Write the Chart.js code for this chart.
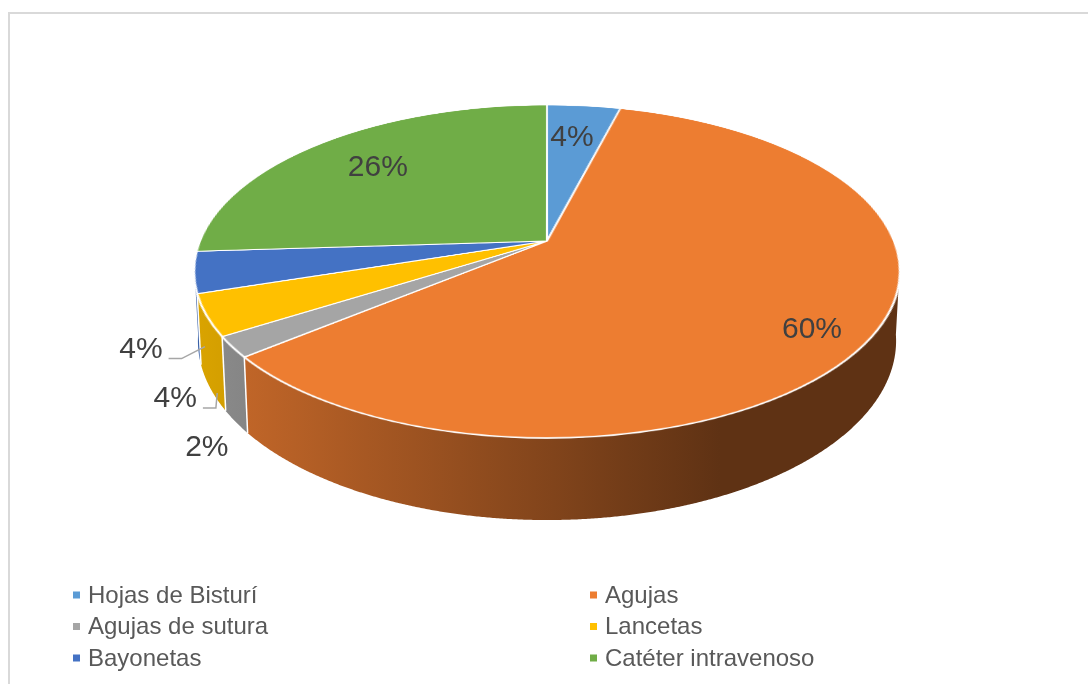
<!DOCTYPE html>
<html>
<head>
<meta charset="utf-8">
<script src="https://cdn.jsdelivr.net/npm/chart.js@4.4.0/dist/chart.umd.min.js"></script>
<style>
  html, body { margin: 0; padding: 0; background: #fff; }
  canvas { display: block; }
</style>
</head>
<body>
<canvas id="graficoResiduos" width="1088" height="684"></canvas>
<script>
const categorias = ['Hojas de Bisturí', 'Agujas', 'Agujas de sutura', 'Lancetas', 'Bayonetas', 'Catéter intravenoso'];
const porcentajes = [4, 60, 2, 4, 4, 26];
const colores = ['#5B9BD5', '#ED7D31', '#A5A5A5', '#FFC000', '#4472C4', '#70AD47'];

// perspectiva del disco: X = cx + k*u*(1 - conv*t/fondo)/(1+r*v), Y = (p*v + q + t)/(1+r*v)
const VISTA = { cx: 547, k: 347, p: 116.77, q: 241, r: -0.1832, fondo: 67, conv: 0.011 };

// colocacion de etiquetas: radio relativo y giro en grados (dentro) o desplazamiento desde el borde inferior (fuera)
const ETIQ = [
    { dentro: 0.73, giro: -0.8 },
    { dentro: 0.856, giro: 3.5 },
    { dx: -29, dy: 26 },
    { dx: -35, dy: 11, guia: true },
    { dx: -57, dy: 8, guia: true },
    { dentro: 0.73, giro: 0 }
];

const FUENTE = "'Liberation Sans', Arial, sans-serif";

function proyectar(u, v, t) {
    t = t || 0;
    const w = 1 + VISTA.r * v;
    const enc = 1 - VISTA.conv * t / VISTA.fondo;
    return { x: VISTA.cx + VISTA.k * u * enc / w, y: (VISTA.p * v + VISTA.q + t) / w };
}

function vDesdeY(y) {
    return (VISTA.q - y) / (y * VISTA.r - VISTA.p);
}

function oscurecer(hex, f) {
    const n = parseInt(hex.slice(1), 16);
    const r = Math.round(((n >> 16) & 255) * f);
    const g = Math.round(((n >> 8) & 255) * f);
    const b = Math.round((n & 255) * f);
    return 'rgb(' + r + ',' + g + ',' + b + ')';
}

const marco = {
    id: 'marco',
    beforeDraw(chart) {
        const ctx = chart.ctx;
        ctx.save();
        ctx.fillStyle = '#d9d9d9';
        ctx.fillRect(8, 12, 2, 700);
        ctx.fillRect(8, 12, 1100, 2);
        ctx.restore();
    }
};

const pastel3d = {
    id: 'pastel3d',
    beforeDatasetsDraw(chart) {
        const ctx = chart.ctx;
        const arcos = chart.getDatasetMeta(0).data;
        const R = arcos[0].outerRadius;
        const cx0 = arcos[0].x, cy0 = arcos[0].y;

        // el pastel plano de Chart.js en un lienzo auxiliar
        const S = Math.ceil(2 * R + 12);
        const aux = document.createElement('canvas');
        aux.width = S; aux.height = S;
        const actx = aux.getContext('2d');
        actx.translate(S / 2 - cx0, S / 2 - cy0);
        arcos.forEach(a => a.draw(actx));

        // paredes laterales: solo la parte delantera del borde
        const visIni = Math.asin(0.15), visFin = Math.PI - Math.asin(0.15);
        const paso = Math.PI / 720;
        ctx.save();
        arcos.forEach((a, i) => {
            const { startAngle, endAngle } = a.getProps(['startAngle', 'endAngle'], true);
            const a0 = Math.max(startAngle, visIni), a1 = Math.min(endAngle, visFin);
            if (a1 <= a0) return;
            const grad = ctx.createLinearGradient(200, 0, 720, 0);
            grad.addColorStop(0, oscurecer(colores[i], 0.85));
            grad.addColorStop(1, oscurecer(colores[i], 0.40));
            ctx.fillStyle = grad;
            ctx.beginPath();
            for (let s = a0; s <= a1 + 1e-9; s += paso) {
                const p = proyectar(Math.cos(s), Math.sin(s), 0);
                ctx.lineTo(p.x, p.y);
            }
            const pf = proyectar(Math.cos(a1), Math.sin(a1), 0);
            ctx.lineTo(pf.x, pf.y);
            for (let s = a1; s >= a0 - 1e-9; s -= paso) {
                const q = proyectar(Math.cos(s), Math.sin(s), VISTA.fondo);
                ctx.lineTo(q.x, q.y);
            }
            const qi = proyectar(Math.cos(a0), Math.sin(a0), VISTA.fondo);
            ctx.lineTo(qi.x, qi.y);
            ctx.closePath();
            ctx.fill();
        });

        // separaciones blancas entre paredes
        ctx.strokeStyle = '#ffffff';
        ctx.lineWidth = 1.5;
        arcos.forEach(a => {
            const ang = a.getProps(['startAngle'], true).startAngle;
            if (ang <= visIni || ang >= visFin) return;
            const t0 = proyectar(Math.cos(ang), Math.sin(ang), 0);
            const t1 = proyectar(Math.cos(ang), Math.sin(ang), VISTA.fondo);
            ctx.beginPath();
            ctx.moveTo(t0.x, t0.y);
            ctx.lineTo(t1.x, t1.y);
            ctx.stroke();
        });

        // cara superior: filas del pastel plano llevadas a perspectiva
        ctx.imageSmoothingEnabled = true;
        ctx.imageSmoothingQuality = 'high';
        const margen = 5;
        const yIni = Math.floor(proyectar(0, -1.03).y);
        const yFin = Math.ceil(proyectar(0, 1.03).y);
        for (let y = yIni; y < yFin; y++) {
            const v0 = vDesdeY(y), v1 = vDesdeY(y + 1);
            let sy0 = S / 2 + v0 * R, sy1 = S / 2 + v1 * R;
            sy0 = Math.max(0, sy0); sy1 = Math.min(S, sy1);
            if (sy1 - sy0 <= 0.01) continue;
            const vm = (v0 + v1) / 2;
            const hw = VISTA.k / (1 + VISTA.r * vm) * (R + margen) / R;
            ctx.drawImage(aux, S / 2 - R - margen, sy0, 2 * (R + margen), sy1 - sy0,
                VISTA.cx - hw, y, 2 * hw, 1);
        }
        ctx.restore();
        return false;
    }
};

const etiquetas = {
    id: 'etiquetas',
    afterDraw(chart) {
        const ctx = chart.ctx;
        const arcos = chart.getDatasetMeta(0).data;
        ctx.save();
        ctx.font = '30px ' + FUENTE;
        ctx.fillStyle = '#404040';
        ctx.textAlign = 'center';
        ctx.textBaseline = 'middle';
        arcos.forEach((a, i) => {
            const { startAngle, endAngle } = a.getProps(['startAngle', 'endAngle'], true);
            const texto = porcentajes[i] + '%';
            const cfg = ETIQ[i];
            if (cfg.dentro) {
                const m = (startAngle + endAngle) / 2 + cfg.giro * Math.PI / 180;
                const p = proyectar(cfg.dentro * Math.cos(m), cfg.dentro * Math.sin(m), 0);
                ctx.fillText(texto, p.x, p.y);
                return;
            }
            const m = (startAngle + endAngle) / 2;
            const ancla = proyectar(Math.cos(m), Math.sin(m), VISTA.fondo);
            const lx = ancla.x + cfg.dx, ly = ancla.y + cfg.dy;
            ctx.fillText(texto, lx, ly);
            if (cfg.guia) {
                const ancho = ctx.measureText(texto).width;
                const x0 = lx + ancho / 2 + 6, y0 = ly + 9;
                ctx.strokeStyle = '#a6a6a6';
                ctx.lineWidth = 1.5;
                ctx.beginPath();
                ctx.moveTo(x0, y0);
                ctx.lineTo(x0 + 13, y0);
                ctx.lineTo(ancla.x + 7, ancla.y + 5);
                ctx.stroke();
            }
        });
        ctx.restore();
    }
};

const leyenda = {
    id: 'leyendaColumnas',
    afterDraw(chart) {
        const ctx = chart.ctx;
        const columnas = [73, 590];
        const filas = [595, 626.5, 658];
        ctx.save();
        ctx.font = '24px ' + FUENTE;
        ctx.textAlign = 'left';
        ctx.textBaseline = 'middle';
        chart.data.labels.forEach((nombre, i) => {
            const x = columnas[i % 2];
            const y = filas[Math.floor(i / 2)];
            ctx.fillStyle = chart.data.datasets[0].backgroundColor[i];
            ctx.fillRect(x, y - 3.5, 7, 7);
            ctx.fillStyle = '#595959';
            ctx.fillText(nombre, x + 15, y + 1);
        });
        ctx.restore();
    }
};

new Chart(document.getElementById('graficoResiduos'), {
    type: 'pie',
    data: {
        labels: categorias,
        datasets: [{
            data: porcentajes,
            backgroundColor: colores,
            borderColor: '#ffffff',
            borderWidth: 2
        }]
    },
    options: {
        responsive: false,
        maintainAspectRatio: false,
        animation: false,
        devicePixelRatio: 1,
        events: [],
        layout: { padding: 20 },
        plugins: {
            legend: { display: false },
            tooltip: { enabled: false }
        }
    },
    plugins: [marco, pastel3d, etiquetas, leyenda]
});
</script>
</body>
</html>
